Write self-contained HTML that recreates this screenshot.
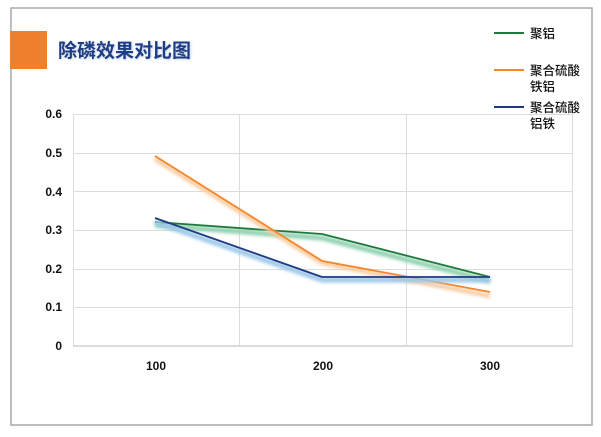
<!DOCTYPE html>
<html><head><meta charset="utf-8"><style>
body{margin:0;background:#fff;width:601px;height:437px;overflow:hidden}
svg{display:block}
text{font-family:"Liberation Sans","Noto Sans CJK SC",sans-serif}
</style></head><body>
<svg width="601" height="437" viewBox="0 0 601 437">
<defs>
<filter id="blur" x="-10%" y="-50%" width="120%" height="200%"><feGaussianBlur stdDeviation="1.5"/></filter>
<filter id="ts"><feGaussianBlur stdDeviation="1.2"/></filter>
</defs>
<rect x="11" y="8" width="581" height="417" fill="#fff" stroke="#a8a8a8" stroke-width="1.5"/>
<rect x="10" y="31" width="37" height="38" fill="#f0802c"/>
<text x="59" y="58" font-size="19" font-weight="bold" fill="#c8d4ea" filter="url(#ts)" font-family="Noto Sans CJK SC">除磷效果对比图</text>
<text x="58" y="57" font-size="19" font-weight="bold" fill="#1f3d85" font-family="Noto Sans CJK SC">除磷效果对比图</text>
<g stroke="#dcdcdc" stroke-width="1">
<line x1="73" y1="114.5" x2="573" y2="114.5"/>
<line x1="73" y1="153.5" x2="573" y2="153.5"/>
<line x1="73" y1="191.5" x2="573" y2="191.5"/>
<line x1="73" y1="230.5" x2="573" y2="230.5"/>
<line x1="73" y1="269.5" x2="573" y2="269.5"/>
<line x1="73" y1="307.5" x2="573" y2="307.5"/>
<line x1="73.5" y1="114" x2="73.5" y2="346"/>
<line x1="239.5" y1="114" x2="239.5" y2="346"/>
<line x1="406.5" y1="114" x2="406.5" y2="346"/>
<line x1="572.5" y1="114" x2="572.5" y2="346"/>
</g>
<line x1="73" y1="346" x2="573" y2="346" stroke="#c8c8c8" stroke-width="1.2"/>
<g font-size="12" fill="#111" text-anchor="end" font-weight="bold">
<text x="62" y="118">0.6</text><text x="62" y="157">0.5</text><text x="62" y="196">0.4</text>
<text x="62" y="234">0.3</text><text x="62" y="273">0.2</text><text x="62" y="311">0.1</text><text x="62" y="350">0</text>
</g>
<g font-size="12" fill="#111" text-anchor="middle" font-weight="bold">
<text x="156" y="370">100</text><text x="323" y="370">200</text><text x="490" y="370">300</text>
</g>
<g fill="none" stroke-linejoin="round">
<polyline points="155,225 322,238 490,281" stroke="#8fd0b0" stroke-width="5" filter="url(#blur)"/>
<polyline points="155,222 322,234 490,277" stroke="#1e7a3c" stroke-width="1.8"/>
<polyline points="155,159 322,263 490,296" stroke="#f8c89a" stroke-width="4" filter="url(#blur)"/>
<polyline points="155,156 322,261 490,292" stroke="#f5862a" stroke-width="1.8"/>
<polyline points="155,222 322,280 490,280" stroke="#9cc8e8" stroke-width="5" filter="url(#blur)"/>
<polyline points="155,218 322,277 490,277" stroke="#1f3a82" stroke-width="1.8"/>
</g>
<line x1="494" y1="33" x2="524" y2="33" stroke="#1e7a3c" stroke-width="2"/>
<line x1="494" y1="70" x2="524" y2="70" stroke="#f5862a" stroke-width="2"/>
<line x1="494" y1="107" x2="524" y2="107" stroke="#1f3a82" stroke-width="2"/>
<g font-size="12.5" fill="#111" font-family="Noto Sans CJK SC" font-weight="500">
<text x="530" y="38">聚铝</text>
<text x="530" y="75">聚合硫酸</text><text x="530" y="91">铁铝</text>
<text x="530" y="112">聚合硫酸</text><text x="530" y="128">铝铁</text>
</g>
</svg>
</body></html>
